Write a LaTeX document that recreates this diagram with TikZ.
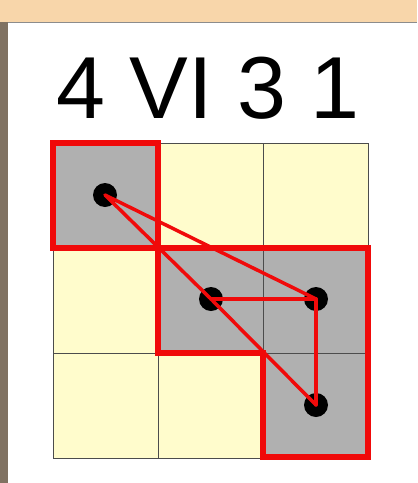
\documentclass[tikz,border=0pt]{standalone}
\usepackage{fontspec}
\setmainfont{Liberation Sans}
\usepackage{xcolor}
\definecolor{frametop}{RGB}{248, 214, 170}
\definecolor{frameside}{RGB}{128, 114, 98}
\definecolor{cellpale}{RGB}{255, 252, 204}
\definecolor{cellgray}{RGB}{176, 176, 176}
\definecolor{linkred}{RGB}{240, 10, 10}
\tikzstyle{cell}     = [draw=black!70, line width=0.8pt, fill=cellpale]
\tikzstyle{marked}   = [draw=black!70, line width=0.8pt, fill=cellgray]
\tikzstyle{region}   = [draw=linkred, line width=6pt, line join=miter]
\tikzstyle{vertex}   = [circle, fill=black, inner sep=0pt, minimum size=24pt]
\tikzstyle{link}     = [draw=linkred, line width=3.5pt, line cap=round]

\begin{document}
\begin{tikzpicture}[x=1pt, y=-1pt]
  % page and frame
  \fill[frametop]  (0,0) rectangle (417,483);
  \fill[frameside] (0,22) rectangle (8,483);
  \fill[white]     (8,22) rectangle (417,483);
  \draw[black!45, line width=1pt] (8,22) -- (417,22);
  \useasboundingbox (0,0) rectangle (417,483);

  \node (title) [font=\fontsize{88}{88}\selectfont, anchor=base] at (208,118) {4 VI 3 1};

  % grid
  \foreach \i in {0,1,2} {
    \foreach \j in {0,1,2} {
      \draw[cell] (53+105*\i,143+105*\j) rectangle ++(105,105);
    }
  }
  \draw[marked] (53,143)  rectangle ++(105,105);
  \draw[marked] (158,248) rectangle ++(105,105);
  \draw[marked] (263,248) rectangle ++(105,105);
  \draw[marked] (263,353) rectangle ++(105,104);

  % red regions
  \draw[region] (53,143) rectangle (158,248);
  \draw[region] (158,248) -- (368,248) -- (368,457) -- (263,457)
                -- (263,353) -- (158,353) -- cycle;

  % vertices
  \node (v1) [vertex] at (105,195) {};
  \node (v2) [vertex] at (211,299) {};
  \node (v3) [vertex] at (316,299) {};
  \node (v4) [vertex] at (316,405) {};

  \draw [link] (v1.center) -- (v3.center);
  \draw [link] (v1.center) -- (v2.center);
  \draw [link] (v2.center) -- (v4.center);
  \draw [link] (v2.center) -- (v3.center);
  \draw [link] (v3.center) -- (v4.center);
\end{tikzpicture}
\end{document}
